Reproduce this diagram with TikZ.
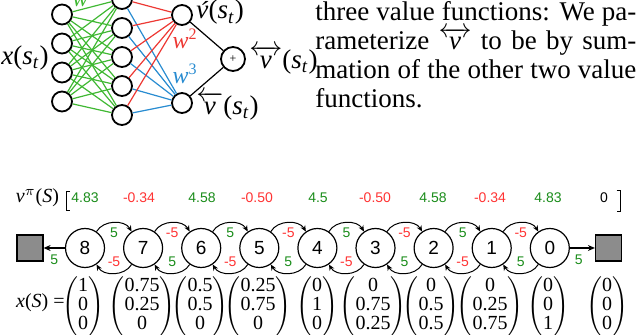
\RequirePackage{fix-cm}
\documentclass[tikz,border=0pt]{standalone}
\usepackage{amsmath}
\usepackage{fontspec}
\setmainfont{Liberation Serif}
\setsansfont{Liberation Sans}
\usetikzlibrary{arrows.meta, positioning}
\definecolor{wgreen}{rgb}{0.25,0.72,0.2}
\definecolor{wred}{rgb}{0.93,0.22,0.2}
\definecolor{wblue}{rgb}{0.16,0.55,0.82}
\definecolor{lgreen}{rgb}{0.1,0.55,0.1}
\definecolor{lred}{rgb}{1,0.2,0.2}
\renewcommand{\arraystretch}{0.78}
\newcommand{\sst}{(\textit{s}\textsubscript{\textit{t}})}

\begin{document}
\begin{tikzpicture}[x=0.5pt, y=0.5pt,
    neuron/.style={circle, draw, line width=0.9pt, minimum size=10pt, inner sep=0pt},
    wire/.style={line width=0.6pt},
    state/.style={circle, draw, line width=0.6pt, minimum size=19.5pt, inner sep=0pt, font=\sffamily\fontsize{9.5}{10}\selectfont},
    terminal/.style={rectangle, draw, line width=0.6pt, fill=black!45, minimum size=13pt, inner sep=0pt},
    rew/.style={font=\sffamily\fontsize{7}{8}\selectfont, inner sep=1pt},
    arc/.style={-{Stealth[length=3pt,width=2.6pt]}, line width=0.5pt},
    lbl/.style={font=\fontsize{13.5}{15}\selectfont, inner sep=0pt},
    txt/.style={font=\fontsize{13.5}{14.85}\selectfont, inner sep=0pt, anchor=base west}]
    \useasboundingbox (0,0) rectangle (640,-335);
    % Network
    \foreach \i/\y in {1/-14.5,2/-43.5,3/-72.5,4/-101.5}
        \node[neuron] (in\i) at (62,\y) {};
    \foreach \j/\y in {1/1,2/-28,3/-57,4/-86,5/-115}
        \node[neuron] (hid\j) at (122,\y) {};
    \node[neuron] (vf) at (182,-15) {};
    \node[neuron] (vb) at (182,-103) {};
    \node[neuron, minimum size=12pt, font=\fontsize{6}{6}\selectfont] (sum) at (233,-59) {+};
    \foreach \i in {1,...,4}
        \foreach \j in {1,...,5}
            \draw[wire, wgreen] (in\i) -- (hid\j);
    \foreach \j in {1,...,5} {
        \draw[wire, wred] (hid\j) -- (vf);
        \draw[wire, wblue] (hid\j) -- (vb);
    }
    \draw[wire] (vf) -- (sum) -- (vb);
    \node[lbl] (xst) at (25,-58) {\textit{x}\sst};
    \node[lbl, anchor=west] (vflab) at (196,-12.5) {\textit{\'v}\sst};
    \node[lbl, anchor=west] (vblab) at (196,-106) {$\overleftarrow{\textit{v}}$\sst};
    \node[lbl, anchor=west] (sumlab) at (249,-60) {$\overleftrightarrow{\textit{v}}$\sst};
    \node[wgreen, font=\fontsize{12}{12}\selectfont, anchor=base west, inner sep=0pt] (w1) at (72,-7) {\textit{w}};
    \node[wred, font=\fontsize{12}{12}\selectfont, inner sep=0pt] (w2) at (185,-39) {\textit{w}\textsuperscript{2}};
    \node[wblue, font=\fontsize{12}{12}\selectfont, inner sep=0pt] (w3) at (185,-74) {\textit{w}\textsuperscript{3}};
    % Text
    \node[txt] (p1) at (315,-20.5) {\makebox[160.5pt][s]{three value functions: We pa-}};
    \node[txt] (p2) at (315,-49.4) {\makebox[160.5pt][s]{rameterize $\overleftrightarrow{\textit{v}}$ to be by sum-}};
    \node[txt] (p3) at (315,-78.3) {\makebox[160.5pt][s]{mation of the other two value}};
    \node[txt] (p4) at (315,-107.2) {functions.};
    % Values
    \node[font=\fontsize{10}{12}\selectfont, anchor=base, inner sep=0pt] (vpi) at (37.5,-203) {\textit{v}\textsuperscript{$\pi$}(\textit{S})};
    \foreach \x/\v/\c [count=\k] in {85/4.83/lgreen, 139/-0.34/lred, 202/4.58/lgreen, 257/-0.50/lred, 318/4.5/lgreen, 375/-0.50/lred, 433/4.58/lgreen, 490/-0.34/lred, 548/4.83/lgreen, 604/0/black}
        \node[rew, text=\c, anchor=base] (val\k) at (\x,-203) {\v};
    \draw[line width=0.5pt] (70,-192) -- (66.5,-192) -- (66.5,-211) -- (70,-211);
    \draw[line width=0.5pt] (616.5,-191) -- (620,-191) -- (620,-212) -- (616.5,-212);
    % Chain
    \foreach \n [count=\k from 0] in {8,7,...,0}
        \node[state] (s\n) at ({85+58.1*\k},-248) {\n};
    \node[terminal] (tl) at (30,-248) {};
    \node[terminal] (tr) at (608.5,-248) {};
    \draw[-{Stealth[length=3.5pt,width=3pt]}, line width=0.8pt] (s8) -- (tl) node[midway, below=2pt, rew, lgreen] {5};
    \draw[-{Stealth[length=3.5pt,width=3pt]}, line width=0.8pt] (s0) -- (tr) node[pos=0.35, below=2pt, rew, lgreen] {5};
    \foreach \a/\b/\tc/\tl/\bc/\bl in {8/7/lgreen/5/lred/-5, 7/6/lred/-5/lgreen/5, 6/5/lgreen/5/lred/-5, 5/4/lred/-5/lgreen/5, 4/3/lgreen/5/lred/-5, 3/2/lred/-5/lgreen/5, 2/1/lgreen/5/lred/-5, 1/0/lred/-5/lgreen/5} {
        \draw[arc] (s\a.55) to[out=60,in=120] node[midway, below=1.5pt, rew, text=\tc] {\tl} (s\b.125);
        \draw[arc] (s\b.-125) to[out=-120,in=-60] node[midway, above=2pt, rew, text=\bc] {\bl} (s\a.-55);
    }
    % Features
    \node[font=\fontsize{10}{12}\selectfont, anchor=east, inner sep=0pt] (xs) at (65,-303) {\textit{x}(\textit{S}) =};
    \foreach \x/\p/\q/\r [count=\k] in {83/1/0/0, 142/0.75/0.25/0, 200/0.5/0.5/0, 258/0.25/0.75/0, 317/0/1/0, 373/0/0.75/0.25, 431/0/0.5/0.5, 490/0/0.25/0.75, 548/0/0/1, 607/0/0/0}
        \node[font=\fontsize{10}{12}\selectfont, inner sep=0pt] (mat\k) at (\x,-307) {$\begin{pmatrix}\text{\p}\\\text{\q}\\\text{\r}\end{pmatrix}$};
\end{tikzpicture}
\end{document}
